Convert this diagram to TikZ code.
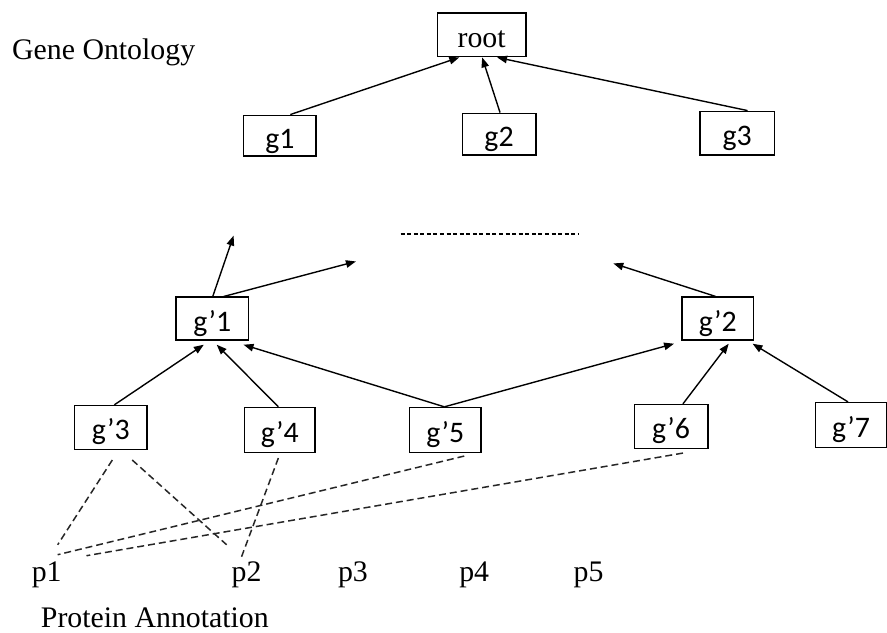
\documentclass[tikz,border=0pt]{standalone}
\usepackage{fontspec}
\setmainfont{Liberation Serif}
\newfontfamily\calfont{Carlito}
\usetikzlibrary{arrows.meta}

\tikzset{
  gbox/.style={draw, line width=1.5pt, inner sep=0pt, text height=25pt, text depth=0pt,
    font=\calfont\fontsize{30}{36}\selectfont},
  lbl/.style={inner sep=0pt, font=\fontsize{30}{36}\selectfont},
  arr/.style={line width=1.4pt, -{Triangle[length=10pt,width=7.5pt]}},
  dashln/.style={line width=1.5pt, dash pattern=on 7pt off 4pt, draw=black!85},
  dotline/.style={line width=2pt, dash pattern=on 4pt off 2.6pt}
}

\begin{document}
\begin{tikzpicture}[x=1pt, y=-1pt]
  % canvas
  \fill[white] (0,0) rectangle (887,636);

  % captions
  \node[lbl, anchor=base west] (go) at (12,60) {Gene Ontology};
  \node[lbl, anchor=base west] (pa) at (41,631) {Protein Annotation};

  % upper ontology
  \node[gbox, minimum width=89pt, minimum height=44pt, font=\fontsize{30}{36}\selectfont] (root) at (484.5,35) {root};
  \node[gbox, minimum width=73pt, minimum height=41pt] (g1) at (281.5,136.5) {g1};
  \node[gbox, minimum width=74pt, minimum height=42pt] (g2) at (502,135) {g2};
  \node[gbox, minimum width=75pt, minimum height=44pt] (g3) at (741.5,134) {g3};

  \draw[arr] ([xshift=10.5pt]g1.north) -- ([xshift=-22.5pt]root.south);
  \draw[arr] ([xshift=1pt]g2.north) -- ([xshift=0.5pt]root.south);
  \draw[arr] ([xshift=10.5pt]g3.north) -- ([xshift=15.5pt]root.south);

  % lower ontology
  \node[gbox, minimum width=73pt, minimum height=43pt] (gp1) at (213.5,320.5) {g’1};
  \node[gbox, minimum width=72pt, minimum height=43pt] (gp2) at (722,320.5) {g’2};
  \node[gbox, minimum width=73pt, minimum height=44pt] (gp3) at (111.5,430) {g’3};
  \node[gbox, minimum width=71pt, minimum height=45pt] (gp4) at (281.5,432.5) {g’4};
  \node[gbox, minimum width=72pt, minimum height=45pt] (gp5) at (448,432.5) {g’5};
  \node[gbox, minimum width=74pt, minimum height=44pt] (gp6) at (675,429) {g’6};
  \node[gbox, minimum width=71pt, minimum height=45pt] (gp7) at (856,427.5) {g’7};

  % open ends towards the rest of the ontology
  \coordinate (up1) at (235,237);
  \coordinate (up2) at (358,263);
  \coordinate (up3) at (617,265);
  \coordinate (dl) at (403,235);
  \coordinate (dr) at (582,235);

  \draw[arr] ([xshift=0.5pt]gp1.north) -- (up1);
  \draw[arr] ([xshift=11.5pt]gp1.north) -- (up2);
  \draw[arr] ([xshift=-2pt]gp2.north) -- (up3);
  \draw[dotline] (dl) -- (dr);

  \draw[arr] ([xshift=3.5pt]gp3.north) -- ([xshift=-8.5pt,yshift=-4pt]gp1.south);
  \draw[arr] ([xshift=-1.5pt]gp4.north) -- ([xshift=4.5pt,yshift=-4pt]gp1.south);
  \draw[arr] ([xshift=-1pt]gp5.north) -- ([xshift=31.5pt,yshift=-4pt]gp1.south);
  \draw[arr] ([xshift=-1pt]gp5.north) -- ([xshift=-44pt,yshift=-3pt]gp2.south);
  \draw[arr] ([xshift=12pt]gp6.north) -- ([xshift=11pt,yshift=-3pt]gp2.south);
  \draw[arr] ([xshift=-3pt]gp7.north) -- ([xshift=35pt,yshift=-3pt]gp2.south);

  % proteins
  \node[lbl, anchor=base] (p1) at (47,585) {p1};
  \node[lbl, anchor=base] (p2) at (248,585) {p2};
  \node[lbl, anchor=base] (p3) at (355,585) {p3};
  \node[lbl, anchor=base] (p4) at (477,585) {p4};
  \node[lbl, anchor=base] (p5) at (592,585) {p5};

  % annotations
  \draw[dashln] ([xshift=1.5pt,yshift=-10pt]gp3.south) -- ([xshift=11pt,yshift=37pt]p1.base);
  \draw[dashln] ([xshift=21.5pt,yshift=-10pt]gp3.south) -- ([xshift=-20pt,yshift=37pt]p2.base);
  \draw[dashln] ([xshift=-1.5pt,yshift=-5pt]gp4.south) -- ([xshift=-5pt,yshift=25pt]p2.base);
  \draw[dashln] ([xshift=19pt,yshift=-3pt]gp5.south) -- ([xshift=11pt,yshift=27pt]p1.base);
  \draw[dashln] ([xshift=12pt,yshift=-4pt]gp6.south) -- ([xshift=40pt,yshift=26pt]p1.base);
\end{tikzpicture}
\end{document}
